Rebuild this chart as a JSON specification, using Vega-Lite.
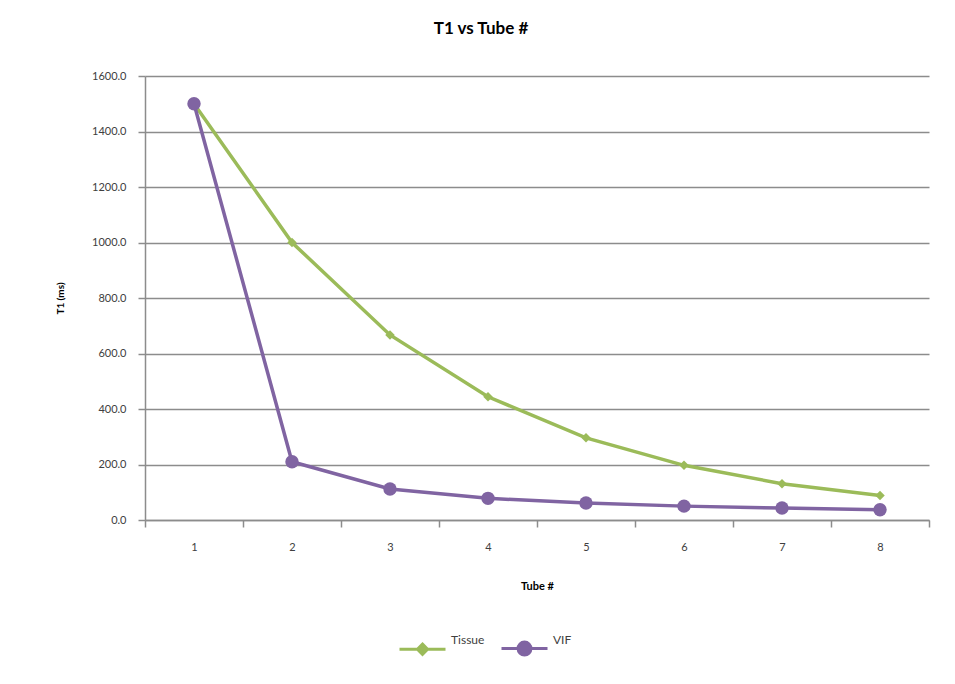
{
  "$schema": "https://vega.github.io/schema/vega-lite/v6.json",
  "width": 784,
  "height": 444,
  "autosize": "none",
  "padding": {"left": 145, "top": 76, "right": 26, "bottom": 164},
  "background": "white",
  "config": {
    "font": "Lato",
    "view": {"stroke": null}
  },
  "title": {
    "text": "T1 vs Tube #",
    "fontSize": 17,
    "fontWeight": "bold",
    "color": "#000000",
    "anchor": "middle",
    "frame": "group",
    "dx": -56,
    "offset": 32
  },
  "data": {
    "values": [
      {"tube": 1, "series": "Tissue", "t1": 1500},
      {"tube": 2, "series": "Tissue", "t1": 1000},
      {"tube": 3, "series": "Tissue", "t1": 667},
      {"tube": 4, "series": "Tissue", "t1": 444},
      {"tube": 5, "series": "Tissue", "t1": 296},
      {"tube": 6, "series": "Tissue", "t1": 197},
      {"tube": 7, "series": "Tissue", "t1": 131},
      {"tube": 8, "series": "Tissue", "t1": 88},
      {"tube": 1, "series": "VIF", "t1": 1500},
      {"tube": 2, "series": "VIF", "t1": 210},
      {"tube": 3, "series": "VIF", "t1": 112},
      {"tube": 4, "series": "VIF", "t1": 78},
      {"tube": 5, "series": "VIF", "t1": 61},
      {"tube": 6, "series": "VIF", "t1": 50},
      {"tube": 7, "series": "VIF", "t1": 43},
      {"tube": 8, "series": "VIF", "t1": 37}
    ]
  },
  "encoding": {
    "x": {
      "field": "tube",
      "type": "ordinal",
      "bandPosition": 0.5,
      "scale": {"type": "band", "paddingInner": 0, "paddingOuter": 0},
      "axis": {
        "title": "Tube #",
        "titleFontSize": 11,
        "titleFontWeight": "bold",
        "titleColor": "#000000",
        "titlePadding": 28,
        "labelAngle": 0,
        "labelFontSize": 11,
        "labelColor": "#404040",
        "labelPadding": 14,
        "tickBand": "extent",
        "tickSize": 7,
        "tickColor": "#8c8c8c",
        "tickWidth": 1.5,
        "domainColor": "#8c8c8c",
        "domainWidth": 1.5,
        "grid": false
      }
    },
    "y": {
      "field": "t1",
      "type": "quantitative",
      "scale": {"domain": [0, 1600], "nice": false},
      "axis": {
        "title": "T1 (ms)",
        "titleFontSize": 10,
        "titleFontWeight": "bold",
        "titleColor": "#000000",
        "titlePadding": 26,
        "values": [0, 200, 400, 600, 800, 1000, 1200, 1400, 1600],
        "format": ".1f",
        "labelFontSize": 11,
        "labelColor": "#404040",
        "labelPadding": 12,
        "tickSize": 7,
        "tickColor": "#8c8c8c",
        "tickWidth": 1.5,
        "domainColor": "#8c8c8c",
        "domainWidth": 1.5,
        "grid": true,
        "gridColor": "#8c8c8c",
        "gridWidth": 1.5
      }
    }
  },
  "layer": [
    {
      "mark": {"type": "line", "strokeWidth": 3.5},
      "encoding": {
        "color": {
          "field": "series",
          "type": "nominal",
          "scale": {"domain": ["Tissue", "VIF"], "range": ["#9BBB59", "#8064A2"]},
          "legend": {
            "title": null,
            "orient": "none",
            "direction": "horizontal",
            "legendX": 253,
            "legendY": 548,
            "labelFontSize": 12,
            "labelColor": "#404040",
            "labelOffset": 4,
            "columnPadding": 10,
            "symbolType": "M-1,0H1M0.28,0A0.28,0.28 0 1 1 -0.28,0A0.28,0.28 0 1 1 0.28,0Z",
            "symbolSize": 2116,
            "symbolStrokeWidth": 3,
            "encode": {
              "symbols": {
                "update": {
                  "shape": {"signal": "datum.value === 'Tissue' ? 'M-1,0H1M0,-0.22L0.22,0L0,0.22L-0.22,0Z' : 'M-1,0H1M0.28,0A0.28,0.28 0 1 1 -0.28,0A0.28,0.28 0 1 1 0.28,0Z'"},
                  "fill": {"scale": "color", "field": "value"},
                  "stroke": {"scale": "color", "field": "value"},
                  "strokeWidth": {"value": 3},
                  "opacity": {"value": 1}
                }
              },
              "labels": {
                "update": {
                  "dy": {"value": -9}
                }
              }
            }
          }
        }
      }
    },
    {
      "transform": [{"filter": "datum.series === 'Tissue'"}],
      "mark": {"type": "point", "filled": true, "opacity": 1, "shape": "diamond", "size": 90, "color": "#9BBB59"}
    },
    {
      "transform": [{"filter": "datum.series === 'VIF'"}],
      "mark": {"type": "point", "filled": true, "opacity": 1, "shape": "circle", "size": 180, "color": "#8064A2"}
    }
  ]
}
